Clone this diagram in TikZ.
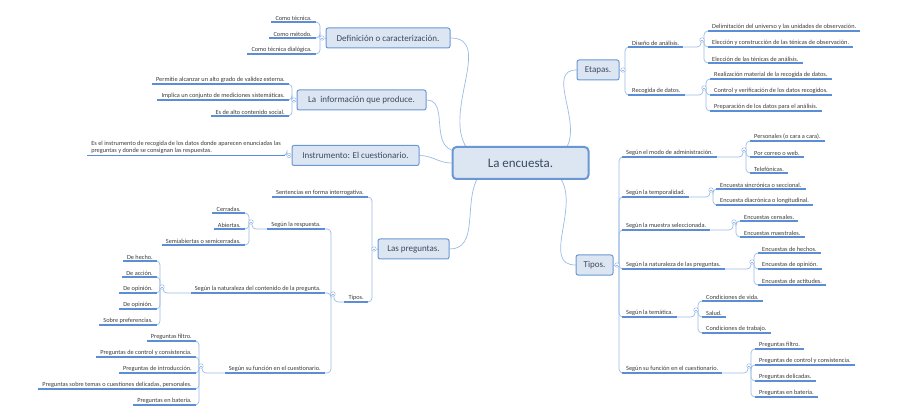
\documentclass[tikz,border=0pt]{standalone}
\usepackage{fontspec}
\setmainfont{Carlito}
\usetikzlibrary{backgrounds}
\definecolor{boxfill}{HTML}{DCE6F2}
\definecolor{boxline}{HTML}{6A97D4}
\definecolor{ulc}{HTML}{5B8ED6}
\definecolor{connc}{HTML}{9BBBE6}
\definecolor{txt}{HTML}{3A3A3A}
\definecolor{mtxt}{HTML}{3A4A60}
\tikzset{
  leafL/.style={anchor=south east,inner xsep=4pt,inner ysep=1.6pt,font=\fontsize{6.3}{7.4}\selectfont,text=txt,align=left},
  leafR/.style={anchor=south west,inner xsep=4pt,inner ysep=1.6pt,font=\fontsize{6.3}{7.4}\selectfont,text=txt,align=left},
  ul/.style={draw=ulc,line width=1.1pt},
  conn/.style={draw=connc,line width=0.7pt,rounded corners=4pt},
  mainb/.style={draw=boxline,fill=boxfill,rounded corners=2pt,line width=1pt,font=\fontsize{9}{10}\selectfont,text=mtxt,inner xsep=6pt,minimum height=20pt},
  jn/.style={circle,draw=connc,fill=white,line width=0.5pt,minimum size=4.5pt,inner sep=0pt,
    path picture={\draw[connc,line width=0.5pt]([xshift=1pt]path picture bounding box.west)--([xshift=-1pt]path picture bounding box.east);}}
}
\newcommand\LL[4]{\node[leafL] (#1) at (#2,#3) {#4}; \draw[ul] (#1.south west) -- (#1.south east);}
\newcommand\LR[4]{\node[leafR] (#1) at (#2,#3) {#4}; \draw[ul] (#1.south west) -- (#1.south east);}
\newcommand\JN[3]{\node[jn] (#1) at (#2,#3) {};}
\begin{document}
\begin{tikzpicture}[x=1pt,y=-1pt]
\useasboundingbox (0,0) rectangle (897,414);
% central
\node[draw=boxline,fill=boxfill,rounded corners=4pt,line width=2pt,minimum width=136pt,minimum height=32pt,font=\fontsize{13}{14}\selectfont,text=mtxt] (c) at (520.5,163) {La encuesta.};
% main nodes
\node[mainb,minimum width=124pt] (def) at (388,38) {Definición o caracterización.};
\node[mainb,minimum width=129pt] (inf) at (361.5,100) {La\ \ información que produce.};
\node[mainb,minimum width=127pt] (ins) at (355.5,155.5) {Instrumento: El cuestionario.};
\node[mainb,minimum width=71pt] (pre) at (413.5,249) {Las preguntas.};
\node[mainb,minimum width=42pt] (eta) at (598,70) {Etapas.};
\node[mainb,minimum width=37pt] (tip) at (594.5,265) {Tipos.};
% junctions of main
\JN{jdef}{322}{38} \JN{jinf}{294}{100} \JN{jins}{289}{155.5} \JN{jpre}{374}{249}
\JN{jeta}{623}{70} \JN{jtip}{617}{265}
% Definicion
\LL{d1}{316}{22}{Como técnica.}
\LL{d2}{316}{38}{Como método.}
\LL{d3}{316}{54}{Como técnica dialógica.}
% Info
\LL{i1}{289}{84}{Permitie alcanzar un alto grado de validez externa.}
\LL{i2}{289}{100}{Implica un conjunto de mediciones sistemáticas.}
\LL{i3}{289}{116}{Es de alto contenido social.}
% Instrumento
\LL{n1}{285}{155.5}{Es el instrumento de recogida de los datos donde aparecen enunciadas las\\preguntas y donde se consignan las respuestas.}
% Preguntas
\LL{p1}{368}{197}{Sentencias en forma interrogativa.}
\LL{p2}{368}{302}{Tipos.}
\JN{jp2}{333}{294}
\LL{t1}{325}{229}{Según la respuesta.}
\LL{t2}{325}{293}{Según la naturaleza del contenido de la pregunta.}
\LL{t3}{325}{373}{Según su función en el cuestionario.}
\JN{jt1}{251}{222} \JN{jt2}{162}{287} \JN{jt3}{201}{366}
\LL{r1}{245}{213}{Cerradas.}
\LL{r2}{245}{229}{Abiertas.}
\LL{r3}{245}{245}{Semiabiertas o semicerradas.}
\LL{a1}{157}{261}{De hecho.}
\LL{a2}{157}{277}{De acción.}
\LL{a3}{157}{293}{De opinión.}
\LL{a4}{157}{309}{De opinión.}
\LL{a5}{157}{325}{Sobre preferencias.}
\LL{f1}{196}{341}{Preguntas filtro.}
\LL{f2}{196}{357}{Preguntas de control y consistencia.}
\LL{f3}{196}{373}{Preguntas de introducción.}
\LL{f4}{196}{389}{Preguntas sobre temas o cuestiones delicadas, personales.}
\LL{f5}{196}{405}{Preguntas en batería.}
% Etapas
\LR{e1}{628}{47}{Diseño de análisis.}
\LR{e2}{628}{95}{Recogida de datos.}
\JN{je1}{702}{40} \JN{je2}{704}{88}
\LR{e11}{708}{31}{Delimitación del universo y las unidades de observación.}
\LR{e12}{708}{47}{Elección y construcción de las ténicas de observación.}
\LR{e13}{708}{63}{Elección de las ténicas de análisis.}
\LR{e21}{710}{79}{Realización material de la recogida de datos.}
\LR{e22}{710}{95}{Control y verificación de los datos recogidos.}
\LR{e23}{710}{111}{Preparación de los datos para el análisis.}
% Tipos
\LR{s1}{622}{157}{Según el modo de administración.}
\LR{s2}{622}{197}{Según la temporalidad.}
\LR{s3}{622}{230}{Según la muestra seleccionada.}
\LR{s4}{622}{269}{Según la naturaleza de las preguntas.}
\LR{s5}{622}{317}{Según la temática.}
\LR{s6}{622}{373}{Según su función en el cuestionario.}
\JN{js1}{744}{150} \JN{js2}{711}{190} \JN{js3}{734}{222} \JN{js4}{752}{262} \JN{js5}{696}{310} \JN{js6}{749}{366}
\LR{m1}{750}{141}{Personales (o cara a cara).}
\LR{m2}{750}{157}{Por correo o web.}
\LR{m3}{750}{173}{Telefónicas.}
\LR{o1}{716}{189}{Encuesta sincrónica o seccional.}
\LR{o2}{716}{205}{Encuesta diacrónica o longitudinal.}
\LR{u1}{740}{221}{Encuestas censales.}
\LR{u2}{740}{237}{Encuestas maestrales.}
\LR{h1}{758}{253}{Encuestas de hechos.}
\LR{h2}{758}{269}{Encuestas de opinión.}
\LR{h3}{758}{285}{Encuestas de actitudes.}
\LR{v1}{702}{301}{Condiciones de vida.}
\LR{v2}{702}{317}{Salud.}
\LR{v3}{702}{333}{Condiciones de trabajo.}
\LR{g1}{755}{349}{Preguntas filtro.}
\LR{g2}{755}{365}{Preguntas de control y consistencia.}
\LR{g3}{755}{381}{Preguntas delicadas.}
\LR{g4}{755}{397}{Preguntas en batería.}
\begin{scope}[on background layer]
% central links
\draw[conn] (def.east) to[out=0,in=120] ([xshift=14pt]c.north west);
\draw[conn] (inf.east) to[out=0,in=160] ([yshift=-4pt]c.north west);
\draw[conn] (ins.east) to[out=0,in=180] (c.west);
\draw[conn] (pre.east) to[out=0,in=-115] ([xshift=25pt]c.south west);
\draw[conn] (eta.west) to[out=180,in=65] ([xshift=-22pt]c.north east);
\draw[conn] (tip.west) to[out=180,in=-60] ([xshift=-28pt]c.south east);
% main to junction
\foreach \m/\j in {def/jdef,inf/jinf,ins/jins,pre/jpre,eta/jeta,tip/jtip}
  \draw[conn] (\m) -- (\j);
% left brackets
\foreach \j/\l in {jdef/d1,jdef/d2,jdef/d3,jinf/i1,jinf/i2,jinf/i3,jins/n1,jpre/p1,jpre/p2,
  jp2/t1,jp2/t2,jp2/t3,jt1/r1,jt1/r2,jt1/r3,jt2/a1,jt2/a2,jt2/a3,jt2/a4,jt2/a5,
  jt3/f1,jt3/f2,jt3/f3,jt3/f4,jt3/f5}
  \draw[conn] ([xshift=-2pt]\j.center) |- (\l.south east);
% right brackets
\foreach \j/\l in {jeta/e1,jeta/e2,je1/e11,je1/e12,je1/e13,je2/e21,je2/e22,je2/e23,
  jtip/s1,jtip/s2,jtip/s3,jtip/s4,jtip/s5,jtip/s6,js1/m1,js1/m2,js1/m3,js2/o1,js2/o2,
  js3/u1,js3/u2,js4/h1,js4/h2,js4/h3,js5/v1,js5/v2,js5/v3,js6/g1,js6/g2,js6/g3,js6/g4}
  \draw[conn] ([xshift=2pt]\j.center) |- (\l.south west);
% parent underline to its junction
\foreach \l/\j in {p2/jp2,t1/jt1,t2/jt2,t3/jt3}
  \draw[conn] (\l.south west) -| ([xshift=1pt]\j.center);
\foreach \l/\j in {e1/je1,e2/je2,s1/js1,s2/js2,s3/js3,s4/js4,s5/js5,s6/js6}
  \draw[conn] (\l.south east) -| ([xshift=-1pt]\j.center);
\end{scope}
\end{tikzpicture}
\end{document}
